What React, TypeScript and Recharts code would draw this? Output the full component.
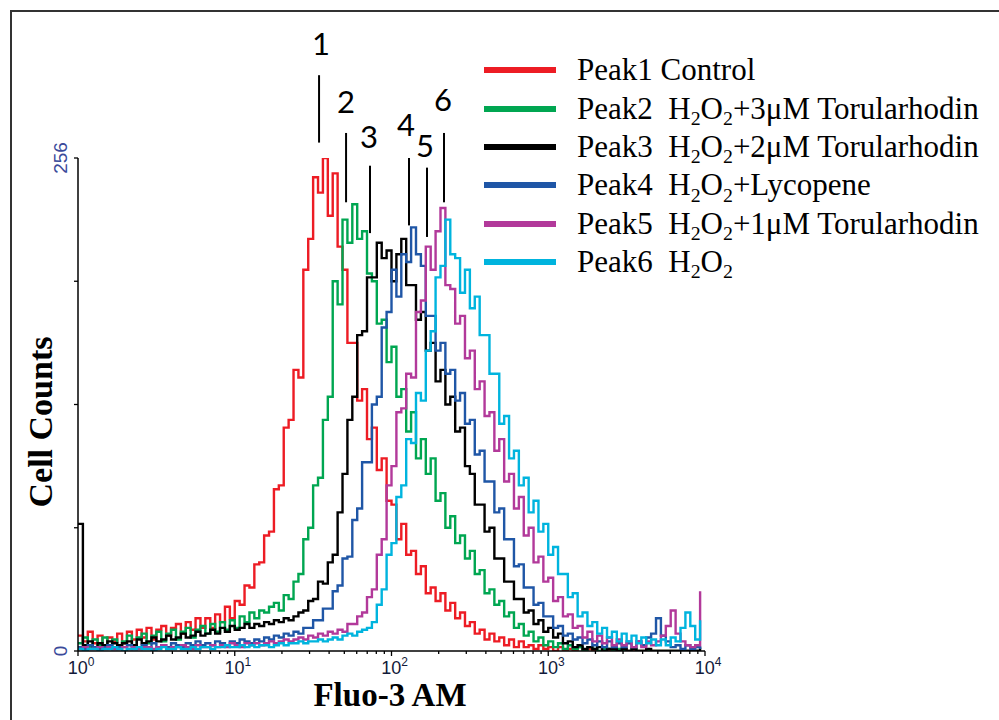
import React from 'react';
import { LineChart, Line, XAxis, YAxis, Legend, ReferenceLine, ReferenceDot } from 'recharts';

// Histogram counts, one value per 2 channels (128 bins over 4 log decades), rows of 10 bins
const peak1Control = [
  8, 5, 10, 4, 8, 3, 7, 5, 9, 4,
  10, 6, 11, 7, 12, 6, 11, 13, 8, 12,
  14, 9, 15, 11, 17, 12, 17, 12, 19, 15,
  23, 17, 26, 24, 34, 33, 45, 46, 60, 62,
  84, 86, 116, 120, 146, 142, 198, 214, 246, 238,
  256, 226, 248, 210, 198, 160, 160, 130, 136, 110,
  116, 94, 100, 78, 76, 58, 66, 50, 52, 40,
  44, 30, 33, 26, 30, 21, 25, 17, 20, 13,
  15, 9, 11, 6, 9, 5, 7, 3, 6, 2,
  5, 2, 3, 1, 3, 1, 2, 0, 2, 0,
  1, 0, 2, 0, 1, 0, 0, 1, 0, 0,
  0, 1, 0, 0, 0, 0, 0, 0, 0, 0,
  0, 0, 0, 0, 0, 0, 0, 0,
];
const peak2Tor3 = [
  4, 7, 2, 6, 3, 7, 2, 6, 3, 5,
  8, 3, 7, 9, 4, 8, 10, 5, 9, 11,
  6, 10, 12, 7, 11, 13, 9, 14, 10, 15,
  11, 16, 12, 18, 15, 20, 17, 21, 20, 23,
  25, 21, 29, 27, 36, 40, 58, 64, 86, 90,
  120, 132, 192, 180, 224, 212, 232, 214, 218, 196,
  192, 170, 172, 150, 158, 132, 136, 114, 124, 100,
  110, 92, 100, 78, 82, 64, 70, 56, 60, 48,
  52, 40, 42, 30, 32, 24, 26, 18, 20, 12,
  14, 8, 10, 5, 7, 3, 5, 2, 4, 1,
  3, 1, 2, 0, 2, 1, 0, 1, 1, 0,
  1, 0, 0, 1, 0, 0, 0, 0, 0, 0,
  0, 0, 0, 0, 0, 0, 0, 0,
];
const peak3Tor2 = [
  66, 3, 5, 2, 4, 3, 5, 4, 3, 4,
  5, 3, 6, 4, 5, 7, 5, 6, 8, 6,
  7, 9, 7, 8, 10, 8, 9, 11, 9, 12,
  10, 13, 11, 12, 14, 12, 14, 13, 15, 14,
  16, 15, 17, 16, 18, 20, 21, 26, 27, 36,
  35, 46, 50, 72, 92, 120, 132, 164, 166, 194,
  194, 212, 204, 208, 192, 206, 214, 190, 190, 172,
  176, 156, 160, 140, 146, 128, 132, 114, 116, 96,
  92, 76, 76, 62, 64, 48, 48, 36, 36, 27,
  27, 20, 21, 14, 16, 10, 12, 7, 9, 4,
  5, 2, 3, 1, 2, 1, 2, 0, 1, 1,
  0, 1, 0, 1, 0, 0, 1, 0, 0, 0,
  0, 0, 0, 0, 0, 0, 0, 2,
];
const peak4Lycopene = [
  2, 1, 3, 2, 1, 2, 3, 1, 2, 2,
  3, 1, 2, 3, 2, 4, 2, 3, 2, 4,
  3, 2, 4, 3, 5, 3, 4, 3, 5, 4,
  3, 5, 4, 6, 5, 4, 6, 5, 7, 6,
  8, 7, 9, 8, 10, 9, 12, 12, 16, 16,
  22, 22, 31, 34, 48, 49, 68, 74, 98, 98,
  128, 132, 168, 176, 198, 184, 206, 202, 220, 206,
  200, 174, 174, 156, 160, 144, 146, 130, 134, 118,
  120, 102, 104, 88, 88, 72, 74, 58, 58, 44,
  45, 33, 33, 24, 25, 18, 18, 12, 13, 8,
  9, 6, 7, 4, 6, 3, 5, 2, 5, 2,
  4, 2, 4, 2, 5, 3, 7, 9, 17, 8,
  5, 2, 3, 1, 3, 1, 2, 1,
];
const peak5Tor1 = [
  1, 2, 1, 1, 2, 1, 2, 1, 1, 2,
  1, 2, 1, 2, 2, 1, 2, 3, 1, 2,
  2, 3, 2, 1, 3, 2, 2, 3, 2, 3,
  2, 4, 3, 2, 4, 3, 4, 3, 4, 5,
  4, 5, 6, 5, 6, 7, 6, 8, 7, 9,
  8, 10, 9, 11, 10, 14, 14, 18, 20, 28,
  32, 50, 58, 86, 96, 124, 126, 144, 142, 176,
  182, 210, 198, 218, 230, 190, 188, 170, 174, 152,
  156, 136, 140, 122, 124, 104, 110, 88, 92, 74,
  80, 60, 64, 46, 49, 36, 38, 26, 28, 18,
  19, 12, 13, 7, 10, 5, 8, 4, 7, 3,
  6, 3, 5, 2, 5, 2, 5, 3, 5, 8,
  13, 21, 9, 5, 3, 2, 3, 31,
];
const peak6H2O2 = [
  1, 0, 1, 1, 0, 1, 1, 2, 1, 0,
  1, 1, 2, 1, 1, 0, 1, 2, 1, 1,
  2, 1, 1, 2, 1, 2, 2, 1, 2, 2,
  3, 2, 2, 3, 2, 3, 2, 3, 3, 2,
  3, 4, 3, 4, 4, 5, 4, 5, 5, 6,
  5, 6, 7, 6, 8, 9, 8, 10, 11, 12,
  15, 24, 32, 50, 56, 80, 86, 110, 108, 134,
  130, 156, 166, 194, 200, 224, 206, 204, 186, 198,
  178, 184, 164, 164, 144, 144, 118, 122, 100, 104,
  86, 90, 72, 78, 62, 66, 50, 54, 40, 40,
  28, 30, 18, 20, 13, 15, 9, 12, 7, 10,
  5, 9, 5, 8, 4, 7, 4, 6, 3, 6,
  3, 7, 5, 12, 20, 13, 6, 16,
];

const seriesKeys = ['p1', 'p2', 'p3', 'p4', 'p5', 'p6'];
const seriesColors = ['#ed1c24', '#00a651', '#000000', '#1f56a6', '#b2399a', '#00b4de'];
const seriesNames = ['Peak1 Control', 'Peak2 H2O2+3μM Torularhodin', 'Peak3 H2O2+2μM Torularhodin', 'Peak4 H2O2+Lycopene', 'Peak5 H2O2+1μM Torularhodin', 'Peak6 H2O2'];
const seriesValues = [peak1Control, peak2Tor3, peak3Tor2, peak4Lycopene, peak5Tor1, peak6H2O2];

const legendPeak = ['Peak1', 'Peak2', 'Peak3', 'Peak4', 'Peak5', 'Peak6'];
const legendH2O2 = [false, true, true, true, true, true];
const legendTreatment = ['Control', '+3μM Torularhodin', '+2μM Torularhodin', '+Lycopene', '+1μM Torularhodin', ''];

const xTicks = [1, 2, 3, 4, 5, 6, 7, 8, 9, 10, 20, 30, 40, 50, 60, 70, 80, 90, 100, 200, 300, 400, 500, 600, 700, 800, 900, 1000, 2000, 3000, 4000, 5000, 6000, 7000, 8000, 9000, 10000];
const yTicks = [0, 64, 128, 192, 256];
const yLabelled = [0, 256];

// Peak annotations: label text, marker line x, line top/bottom counts, label position
const peakLabels = ['1', '2', '3', '4', '5', '6'];
const peakLineX = [34.5, 51.3, 72.9, 129.3, 168.5, 216.2];
const peakLineTop = [299, 269, 252, 256, 251, 269];
const peakLineBottom = [264, 233, 217, 221, 215, 233];
const peakLabelX = [35.5, 51.3, 71.9, 123.7, 163.6, 213.0];
const peakLabelY = [315, 285, 267, 273, 262, 286];

const BINS = 128;
const data = Array.from({ length: BINS }, (_, i) => {
  const row: any = { x: Math.pow(10, i / 32) };
  seriesKeys.forEach((k, s) => {
    row[k] = seriesValues[s][i];
  });
  return row;
});

const XTick = (props: any) => {
  const { x, y, payload } = props;
  const v = payload.value;
  const e = Math.round(Math.log10(v));
  const major = Math.abs(Math.pow(10, e) - v) < 1e-6;
  return (
    <g>
      <line x1={x} x2={x} y1={y} y2={y + (major ? 5 : 3)} stroke="#000" strokeWidth={1.3} />
      {major && (
        <text x={x + 3} y={y + 23} textAnchor="middle" fontFamily="Liberation Sans, Arial" fontSize={18} fill="#121a3a">
          10<tspan dy={-8} fontSize={12}>{e}</tspan>
        </text>
      )}
    </g>
  );
};

const YTick = (props: any) => {
  const { x, y, payload } = props;
  const v = payload.value;
  const lab = yLabelled.includes(v);
  return (
    <g>
      <line x1={x} x2={x - 4} y1={y} y2={y} stroke="#000" strokeWidth={1.3} />
      {lab && (
        <text
          x={x - 11}
          y={y}
          transform={`rotate(-90 ${x - 11} ${y})`}
          textAnchor="middle"
          fontFamily="Liberation Sans, Arial"
          fontSize={19}
          fill="#3a4a9a"
        >
          {v}
        </text>
      )}
    </g>
  );
};

const sub = { fontSize: '0.64em', position: 'relative' as const, top: '0.32em' };

const LegendContent = (props: any) => {
  const { payload } = props;
  return (
    <div style={{ fontFamily: 'Liberation Serif, Times New Roman, serif', fontSize: 31, color: '#000', textAlign: 'left' }}>
      {(payload || []).map((p: any, i: number) => (
        <div key={i} style={{ display: 'flex', alignItems: 'center', height: 38.4, whiteSpace: 'pre' }}>
          <div style={{ width: 72, height: 6, background: p.color, marginRight: 21, flex: 'none' }} />
          <span>
            {legendPeak[i]}
            {legendH2O2[i] ? '  ' : ' '}
            {legendH2O2[i] ? (
              <>
                H<span style={sub}>2</span>O<span style={sub}>2</span>
              </>
            ) : null}
            {legendTreatment[i]}
          </span>
        </div>
      ))}
    </div>
  );
};

export default function App() {
  return (
    <div style={{ position: 'absolute', left: 0, top: 0, width: 999, height: 720, background: '#fff', overflow: 'hidden' }}>
      <div style={{ position: 'absolute', left: 10, top: 10, width: 1200, height: 1000, borderTop: '2px solid #333', borderLeft: '2px solid #333' }} />
      <LineChart width={999} height={720} data={data} margin={{ top: 158, right: 294, bottom: 29, left: 18 }}>
        <XAxis
          dataKey="x"
          type="number"
          scale="log"
          domain={[1, 10000]}
          ticks={xTicks}
          interval={0}
          tick={<XTick />}
          tickLine={false}
          tickSize={0}
          tickMargin={0}
          height={40}
          axisLine={{ stroke: '#000', strokeWidth: 1.5 }}
          allowDataOverflow
        />
        <YAxis
          type="number"
          domain={[0, 256]}
          ticks={yTicks}
          interval={0}
          tick={<YTick />}
          tickLine={false}
          tickSize={0}
          tickMargin={0}
          width={60}
          axisLine={{ stroke: '#000', strokeWidth: 1.5 }}
          allowDataOverflow
        />
        {seriesKeys.map((k, s) => (
          <Line
            key={k}
            dataKey={k}
            name={seriesNames[s]}
            type="stepAfter"
            stroke={seriesColors[s]}
            strokeWidth={2.4}
            dot={false}
            isAnimationActive={false}
          />
        ))}
        {peakLabels.map((lab, i) => (
          <ReferenceLine
            key={'l' + i}
            segment={[
              { x: peakLineX[i], y: peakLineBottom[i] },
              { x: peakLineX[i], y: peakLineTop[i] },
            ]}
            stroke="#000"
            strokeWidth={2}
            ifOverflow="visible"
          />
        ))}
        {peakLabels.map((lab, i) => (
          <ReferenceDot
            key={'d' + i}
            x={peakLabelX[i]}
            y={peakLabelY[i]}
            r={1}
            fill="none"
            stroke="none"
            ifOverflow="visible"
            label={{ value: lab, position: 'center', fontSize: 31, fill: '#000', fontFamily: 'Lato, Open Sans, sans-serif' }}
          />
        ))}
        <Legend
          layout="vertical"
          verticalAlign="middle"
          align="center"
          content={<LegendContent />}
          wrapperStyle={{ position: 'absolute', left: 484, top: 51, width: 515, margin: 0 }}
        />
      </LineChart>
      <div
        style={{
          position: 'absolute',
          left: 390,
          top: 695,
          transform: 'translate(-50%, -50%)',
          fontFamily: 'Liberation Serif, Times New Roman, serif',
          fontWeight: 'bold',
          fontSize: 33,
          lineHeight: '34px',
          whiteSpace: 'nowrap',
        }}
      >
        Fluo-3 AM
      </div>
      <div
        style={{
          position: 'absolute',
          left: 41,
          top: 422,
          transform: 'translate(-50%, -50%) rotate(-90deg)',
          fontFamily: 'Liberation Serif, Times New Roman, serif',
          fontWeight: 'bold',
          fontSize: 34,
          whiteSpace: 'nowrap',
        }}
      >
        Cell Counts
      </div>
    </div>
  );
}
